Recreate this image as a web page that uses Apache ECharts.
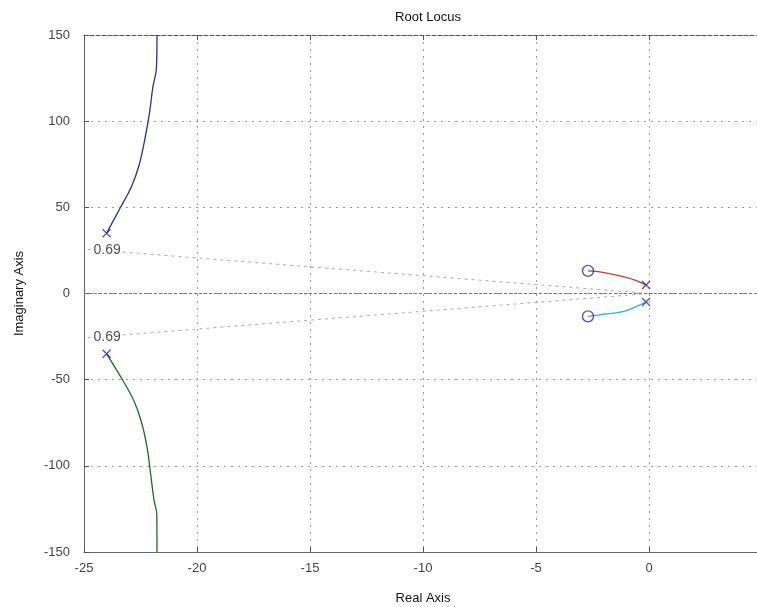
<!DOCTYPE html>
<html>
<head>
<meta charset="UTF-8">
<title>Root Locus</title>
<script src="https://cdn.jsdelivr.net/npm/echarts@6/dist/echarts.min.js"></script>
<style>
  html, body { margin: 0; padding: 0; background: #fff; }
  #chart { width: 757px; height: 607px; }
</style>
</head>
<body>
<div id="chart"></div>
<script>
// locus branches [real, imag]
var blueBranch = [[-24, 35], [-23.4, 49.6], [-22.9, 62], [-22.55, 75], [-22.3, 90], [-22.1, 105], [-21.95, 120], [-21.8, 130], [-21.77, 150]];
var greenBranch = [[-24, -35], [-23.3, -50], [-22.8, -62], [-22.45, -75], [-22.2, -90], [-22.05, -105], [-21.9, -120], [-21.78, -128], [-21.77, -150]];
var redBranch = [[-0.13, 4.9], [-0.62, 7.8], [-1.28, 10.2], [-2.17, 12.5], [-2.7, 13.1]];
var cyanBranch = [[-0.13, -4.9], [-1.06, -10.2], [-1.95, -11.9], [-2.7, -13.3]];
var poles = [[-24, 35], [-24, -35], [-0.13, 4.9], [-0.13, -4.9]];
var zeros = [[-2.7, 13.1], [-2.7, -13.3]];
// damping grid lines (zeta = 0.69)
var dampUpper = [[0, 0], [-25, 25.8]];
var dampLower = [[0, 0], [-25, -25.8]];
var dampLabelPts = [[-25, 25.4], [-25, -25.4]];
var dampLabel = '0.69';
var xTicks = [-25, -20, -15, -10, -5, 0, 5];
var yTicks = [-150, -100, -50, 0, 50, 100, 150];

var chart = echarts.init(document.getElementById('chart'));
var font = 'Liberation Sans, Arial, sans-serif';
var navy = '#2b2b8c';

function dampSeries(pts) {
    return {
        type: 'line', data: pts, symbol: 'none', silent: true, z: 1,
        lineStyle: { color: '#aaa', width: 1, type: [3, 4] }
    };
}

function branch(data, color) {
    return { type: 'line', data: data, symbol: 'none', smooth: 0.3, z: 3,
        lineStyle: { color: color, width: 1.3 } };
}

var option = {
    backgroundColor: '#fff',
    animation: false,
    title: {
        text: 'Root Locus', left: 423, top: 6, textAlign: 'center',
        textStyle: { fontSize: 13, fontWeight: 'normal', color: '#111', fontFamily: font }
    },
    grid: { left: 84, right: -5, top: 35, bottom: 55, outerBoundsMode: 'none', containLabel: false },
    xAxis: [{
        type: 'value', min: -25, max: 5, interval: 5,
        name: 'Real Axis', nameLocation: 'middle', nameGap: 40,
        nameTextStyle: { fontSize: 13, color: '#111', fontFamily: font },
        axisLine: { show: true, onZero: false, lineStyle: { color: '#666' } },
        axisTick: { inside: true, length: 5, lineStyle: { color: '#555' } },
        axisLabel: { fontSize: 13, color: '#444', fontFamily: font, margin: 10,
            showMaxLabel: true, hideOverlap: false,
            formatter: function (v) { return xTicks.indexOf(v) >= 0 ? String(v) : ''; } },
        splitLine: { show: true, lineStyle: { color: '#999', type: [2, 5] } }
    }, {
        type: 'value', position: 'top', min: -25, max: 5, interval: 5,
        axisLine: { show: true, onZero: false, lineStyle: { color: '#555', type: [4, 2] } },
        axisTick: { inside: true, length: 5, lineStyle: { color: '#555' } },
        axisLabel: { show: false }, splitLine: { show: false }
    }],
    yAxis: [{
        type: 'value', min: -150, max: 150, interval: 50,
        name: 'Imaginary Axis', nameLocation: 'middle', nameGap: 58,
        nameTextStyle: { fontSize: 13, color: '#111', fontFamily: font },
        axisLine: { show: true, onZero: false, lineStyle: { color: '#666' } },
        axisTick: { inside: true, length: 5, lineStyle: { color: '#555' } },
        axisLabel: { fontSize: 13, color: '#444', fontFamily: font, margin: 14,
            formatter: function (v) { return yTicks.indexOf(v) >= 0 ? String(v) : ''; } },
        splitLine: { show: true, lineStyle: { color: '#999', type: [2, 5] } }
    }, {
        type: 'value', position: 'right', min: -150, max: 150, interval: 50,
        axisLine: { show: true, onZero: false, lineStyle: { color: '#666' } },
        axisTick: { inside: true, length: 5 }, axisLabel: { show: false }, splitLine: { show: false }
    }],
    series: [
        {
            type: 'line', data: [[-25, 0], [5, 0]], symbol: 'none', silent: true, z: 1,
            lineStyle: { color: '#777', width: 1, type: [3, 2] }
        },
        dampSeries(dampUpper),
        dampSeries(dampLower),
        {
            type: 'scatter', data: dampLabelPts, symbolSize: 1, silent: true, z: 2,
            itemStyle: { color: 'rgba(0,0,0,0)' },
            label: {
                show: true, position: 'right', distance: 8,
                formatter: dampLabel, color: '#222', fontSize: 14, fontFamily: font,
                backgroundColor: '#fff', padding: [0, 1]
            }
        },
        branch(blueBranch, '#2e2e96'),
        branch(greenBranch, '#1f6b2a'),
        branch(redBranch, '#b0443a'),
        branch(cyanBranch, '#3ab4c8'),
        {
            type: 'scatter', data: poles, z: 5,
            symbol: 'path://M0,0L10,10M10,0L0,10', symbolSize: 8,
            itemStyle: { color: 'none', borderColor: navy, borderWidth: 1.3 }
        },
        {
            type: 'scatter', data: zeros, z: 5,
            symbol: 'circle', symbolSize: 11,
            itemStyle: { color: 'none', borderColor: navy, borderWidth: 1.4 }
        }
    ]
};
chart.setOption(option);
</script>
</body>
</html>
